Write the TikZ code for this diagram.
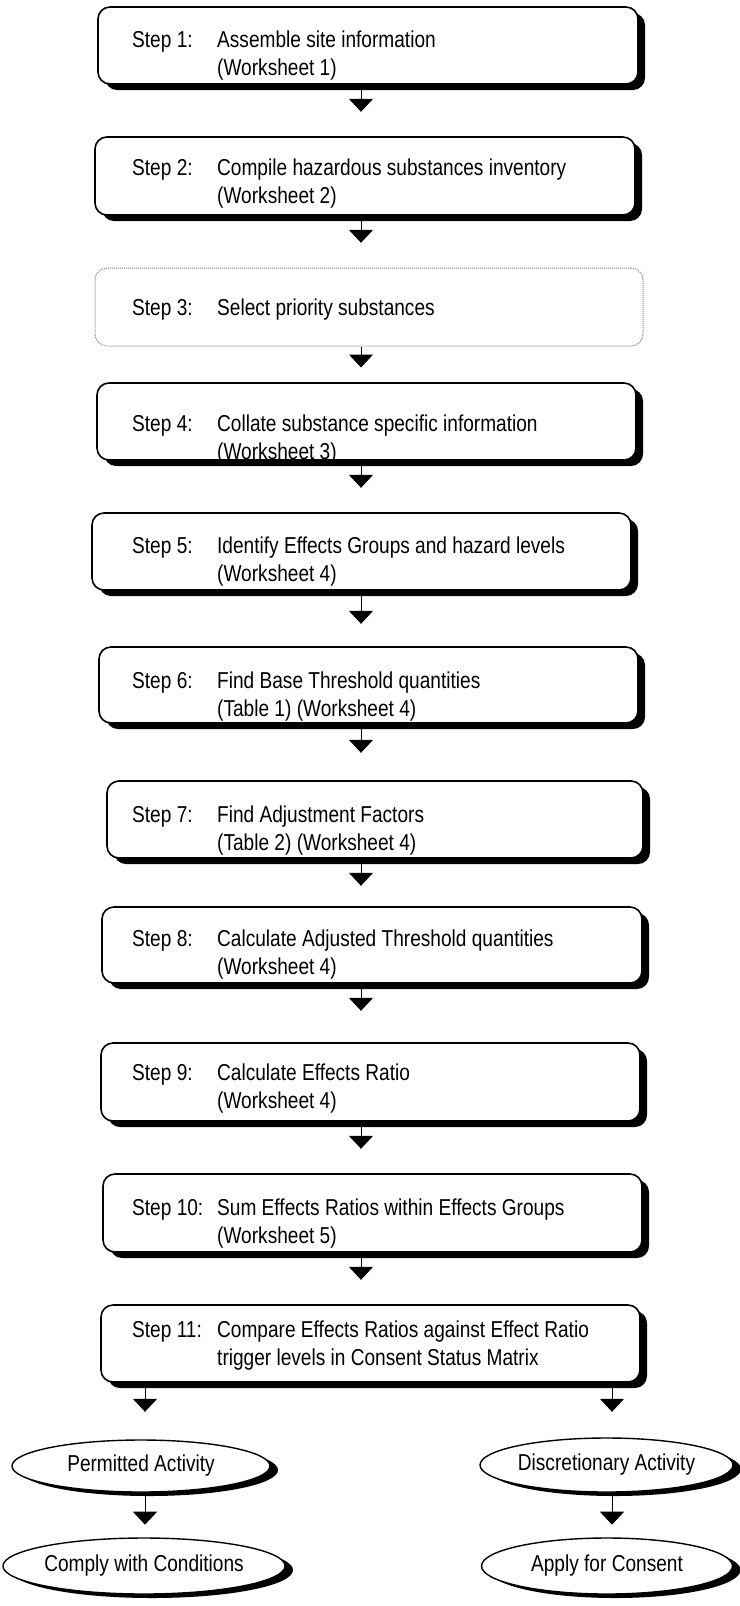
\documentclass[tikz,border=0pt]{standalone}
\usepackage{fontspec}
\setmainfont{Liberation Sans}[FakeStretch=0.83]
\usetikzlibrary{arrows.meta,calc,shapes.geometric,shadows}

\newcommand{\steprow}[2]{\begin{tabular}[t]{@{}p{85pt}@{}l@{}}#1 & #2\end{tabular}}

\tikzset{
  stepbox/.style={draw, line width=1.6pt, rounded corners=12pt, fill=white, inner sep=0pt,
    drop shadow={shadow xshift=7pt, shadow yshift=-6pt, fill=black, opacity=1}},
  dotbox/.style={draw=black!50, densely dotted, line width=1pt, rounded corners=12pt, inner sep=0pt},
  steptext/.style={anchor=base west, inner sep=0pt, font=\fontsize{23}{28}\selectfont},
  endnode/.style={ellipse, draw, line width=1.4pt, fill=white, inner sep=0pt,
    font=\fontsize{23}{28}\selectfont,
    drop shadow={shadow xshift=8pt, shadow yshift=-4pt, fill=black, opacity=1}},
  flow/.style={line width=1pt, -{Triangle[width=24pt,length=13pt]}}
}

\begin{document}
\begin{tikzpicture}[x=1pt, y=-1pt, line join=round]
  \useasboundingbox (0,0) rectangle (739,1606);
  % the step boxes, placed by centre and size
  \foreach \n/\x/\y/\w/\h in {1/368/45.5/540/77, 2/365/176/540/78, 4/366.5/421.5/539/77,
                              5/361.5/551.5/539/77, 6/368.5/685/539/76, 7/375/819.5/536/77,
                              8/372/945/540/76, 9/370.5/1082/539/78, 10/372.5/1213/539/78,
                              11/370.5/1343.5/539/77} {
    \node[stepbox, minimum width=\w pt, minimum height=\h pt] (s\n) at (\x,\y) {};
  }
  \node[dotbox, minimum width=548pt, minimum height=78pt] (s3) at (369,307) {};
  % the texts, in two columns
  \node[steptext] (t1) at (132,47) {\steprow{Step 1:}{Assemble site information\\ & (Worksheet 1)}};
  \node[steptext] (t2) at (132,175) {\steprow{Step 2:}{Compile hazardous substances inventory\\ & (Worksheet 2)}};
  \node[steptext] (t3) at (132,315) {\steprow{Step 3:}{Select priority substances}};
  \node[steptext] (t4) at (132,431) {\steprow{Step 4:}{Collate substance specific information\\ & (Worksheet 3)}};
  \node[steptext] (t5) at (132,553) {\steprow{Step 5:}{Identify Effects Groups and hazard levels\\ & (Worksheet 4)}};
  \node[steptext] (t6) at (132,688) {\steprow{Step 6:}{Find Base Threshold quantities\\ & (Table 1) (Worksheet 4)}};
  \node[steptext] (t7) at (132,822) {\steprow{Step 7:}{Find Adjustment Factors\\ & (Table 2) (Worksheet 4)}};
  \node[steptext] (t8) at (132,946) {\steprow{Step 8:}{Calculate Adjusted Threshold quantities\\ & (Worksheet 4)}};
  \node[steptext] (t9) at (132,1080) {\steprow{Step 9:}{Calculate Effects Ratio\\ & (Worksheet 4)}};
  \node[steptext] (t10) at (132,1215) {\steprow{Step 10:}{Sum Effects Ratios within Effects Groups\\ & (Worksheet 5)}};
  \node[steptext] (t11) at (132,1337) {\steprow{Step 11:}{Compare Effects Ratios against Effect Ratio\\ & trigger levels in Consent Status Matrix}};
  % the four outcomes
  \node[endnode, minimum width=258pt, minimum height=52pt] (p1) at (141,1466) {Permitted Activity};
  \node[endnode, minimum width=262pt, minimum height=56pt] (c1) at (144,1566) {Comply with Conditions};
  \node[endnode, minimum width=253pt, minimum height=54pt] (d1) at (606.5,1465) {Discretionary Activity};
  \node[endnode, minimum width=251pt, minimum height=56pt] (a1) at (607,1566) {Apply for Consent};
  % arrows down the column
  \coordinate (mid) at (361,0);
  \coordinate (lx) at (145,0);
  \coordinate (rx) at (612,0);
  \foreach \a/\b/\l in {s1/s2/27pt, s2/s3/27pt, s3/s4/21pt, s4/s5/27pt, s5/s6/33pt,
                        s6/s7/29pt, s7/s8/27pt, s8/s9/27pt, s9/s10/27pt, s10/s11/27pt} {
    \draw[flow] (\a.south -| mid) -- ($(\a.south -| mid)!\l!(\b.north -| mid)$);
  }
  \draw[flow] (s11.south -| lx) -- ($(s11.south -| lx)!29pt!(p1.north -| lx)$);
  \draw[flow] (s11.south -| rx) -- ($(s11.south -| rx)!29pt!(d1.north -| rx)$);
  \draw[flow] (p1.south -| lx) -- ($(p1.south -| lx)!32pt!(c1.north -| lx)$);
  \draw[flow] (d1.south -| rx) -- ($(d1.south -| rx)!32pt!(a1.north -| rx)$);
\end{tikzpicture}
\end{document}
